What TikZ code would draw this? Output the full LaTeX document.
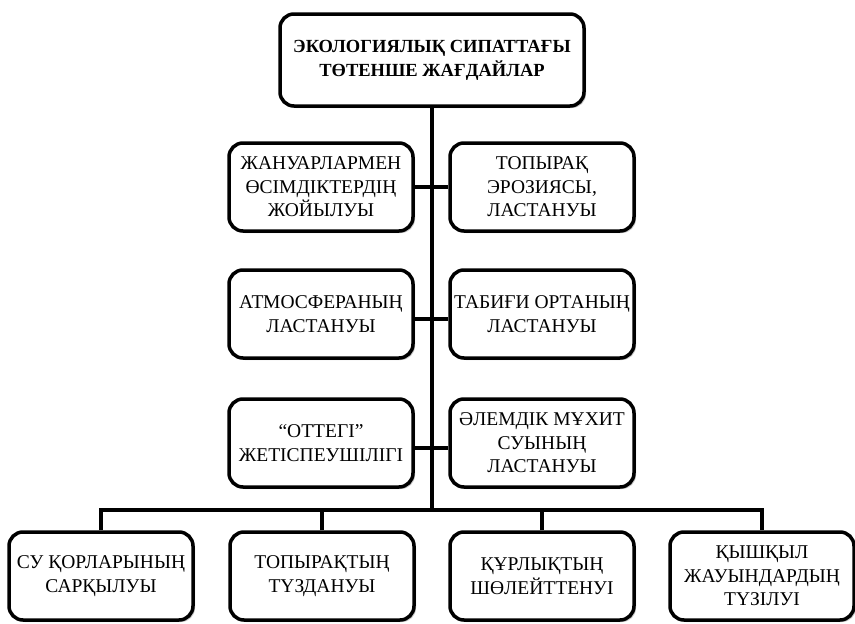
\documentclass[tikz,border=0pt]{standalone}
\usepackage{fontspec}
\setmainfont{Liberation Serif}[Ligatures=TeX]
\usetikzlibrary{shadows}
\tikzset{
  box/.style={draw, line width=3.5pt, rounded corners=14pt, fill=white, align=center,
    minimum width=184pt, minimum height=88pt, inner sep=2pt,
    font=\fontsize{19.5}{23.5}\selectfont,
    drop shadow={shadow xshift=2pt, shadow yshift=-2pt, opacity=.45}},
  link/.style={line width=3.5pt}
}
\begin{document}
\begin{tikzpicture}[x=1pt, y=-1pt]
\useasboundingbox (0,0) rectangle (855,624);

\node (top) [box, minimum width=304pt, minimum height=92pt, font=\bfseries\fontsize{18.5}{24}\selectfont] at (432,60) {ЭКОЛОГИЯЛЫҚ СИПАТТАҒЫ \\ ТӨТЕНШЕ ЖАҒДАЙЛАР};

\node (l1) [box] at (321,187) {ЖАНУАРЛАРМЕН \\ ӨСІМДІКТЕРДІҢ \\ ЖОЙЫЛУЫ};
\node (l2) [box] at (321,314) {АТМОСФЕРАНЫҢ \\ ЛАСТАНУЫ};
\node (l3) [box] at (321,443) {“ОТТЕГІ” \\ ЖЕТІСПЕУШІЛІГІ};

\node (r1) [box] at (542,187) {ТОПЫРАҚ \\ ЭРОЗИЯСЫ, \\ ЛАСТАНУЫ};
\node (r2) [box] at (542,314) {ТАБИҒИ ОРТАНЫҢ \\ ЛАСТАНУЫ};
\node (r3) [box] at (542,443) {ӘЛЕМДІК МҰХИТ \\ СУЫНЫҢ \\ ЛАСТАНУЫ};

\node (b1) [box] at (101,576) {СУ ҚОРЛАРЫНЫҢ \\ САРҚЫЛУЫ};
\node (b2) [box] at (322,576) {ТОПЫРАҚТЫҢ \\ ТҮЗДАНУЫ};
\node (b3) [box] at (542,576) {ҚҰРЛЫҚТЫҢ \\ ШӨЛЕЙТТЕНУІ};
\node (b4) [box] at (762,576) {ҚЫШҚЫЛ \\ ЖАУЫНДАРДЫҢ \\ ТҮЗІЛУІ};

\coordinate (bus) at (432,510);

\draw [link](top) -- (bus);
\draw [link](l1) -- (r1);
\draw [link]([yshift=-5pt]l2.east) -- ([yshift=-5pt]r2.west);
\draw [link]([yshift=-5pt]l3.east) -- ([yshift=-5pt]r3.west);
\draw [link, line join=miter](b1.north) |- (bus) -| (b4.north);
\draw [link](b2.north) -- (b2.north |- bus);
\draw [link](b3.north) -- (b3.north |- bus);
\end{tikzpicture}
\end{document}
